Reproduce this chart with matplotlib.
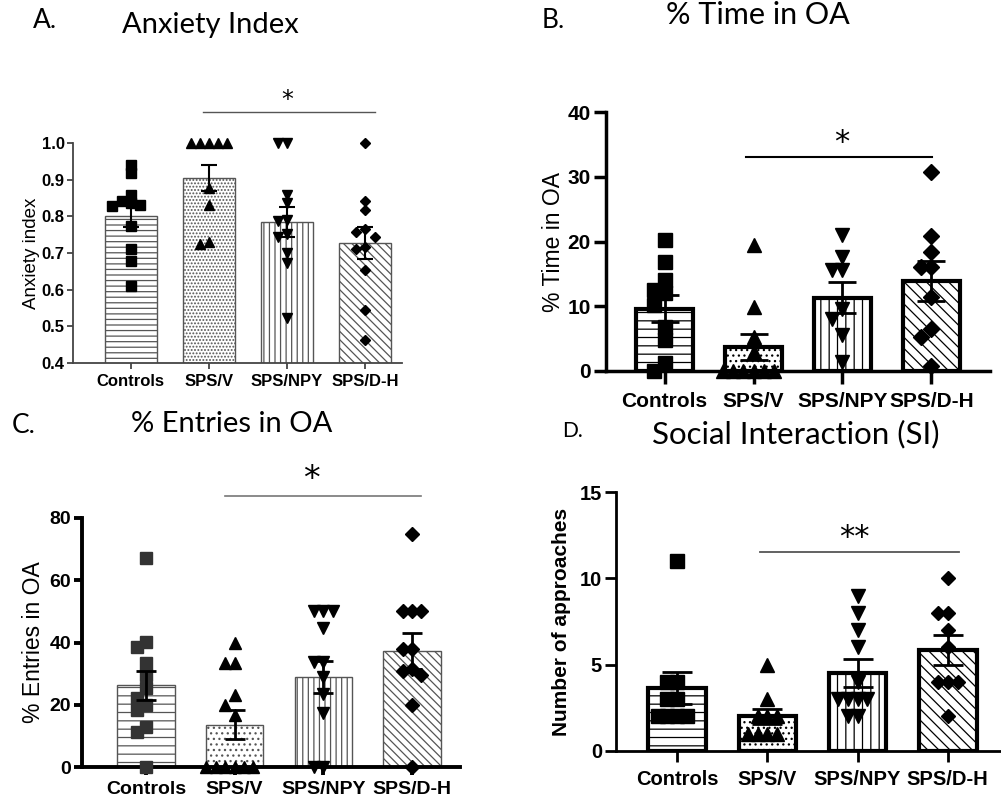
import matplotlib
matplotlib.use('Agg')
import matplotlib.pyplot as plt
import numpy as np

groups = ['Controls', 'SPS/V', 'SPS/NPY', 'SPS/D-H']

# A. Anxiety index
anx_means = [0.80, 0.905, 0.785, 0.728]
anx_sem = [0.03, 0.035, 0.04, 0.043]
anx_ctrl = [0.94, 0.918, 0.859, 0.843, 0.836, 0.832, 0.827, 0.773, 0.711, 0.679, 0.611]
anx_spsv = [1.0, 1.0, 1.0, 1.0, 1.0, 0.877, 0.832, 0.729, 0.725]
anx_npy = [1.0, 1.0, 0.859, 0.836, 0.79, 0.786, 0.752, 0.745, 0.70, 0.673, 0.523]
anx_dh = [1.0, 0.843, 0.818, 0.765, 0.757, 0.745, 0.716, 0.711, 0.653, 0.544, 0.464]

# B. % time in open arms
time_means = [9.6, 3.7, 11.3, 13.9]
time_sem = [2.1, 2.05, 2.4, 3.05]
time_ctrl = [20.2, 16.9, 14.0, 12.5, 12.0, 10.2, 6.8, 4.8, 1.2, 0.0]
time_spsv = [19.5, 9.9, 5.3, 3.0, 0, 0, 0, 0, 0, 0]
time_npy = [21.0, 17.6, 15.6, 15.6, 9.6, 8.1, 5.5, 1.4]
time_dh = [30.7, 20.8, 18.4, 16.1, 16.1, 11.5, 6.5, 5.3, 0.8]

# C. % entries in open arms
ent_means = [26.2, 13.6, 29.0, 37.3]
ent_sem = [4.8, 4.6, 5.2, 5.8]
ent_ctrl = [67.0, 40.3, 38.7, 33.3, 29.6, 25.3, 22.1, 19.9, 18.3, 13.0, 11.3, 0.0]
ent_spsv = [40.0, 33.3, 33.3, 23.1, 20.0, 16.7, 0, 0, 0, 0, 0, 0]
ent_npy = [50.0, 50.0, 50.0, 44.6, 33.8, 33.8, 29.0, 23.6, 17.2, 0, 0]
ent_dh = [75.0, 50.0, 50.0, 50.0, 37.8, 37.8, 31.5, 31.0, 29.5, 19.9, 0]

# D. Social interaction
si_means = [3.65, 2.0, 4.5, 5.85]
si_sem = [0.95, 0.45, 0.8, 0.85]
si_ctrl = [11, 4, 4, 3, 3, 2, 2, 2, 2]
si_spsv = [5, 3, 2, 2, 2, 1, 1, 1, 1]
si_npy = [9, 8, 7, 6, 4, 3, 3, 3, 3, 2, 2]
si_dh = [10, 8, 8, 7, 6, 4, 4, 4, 2]

markers = ['s', '^', 'v', 'D']

FIG_W, FIG_H = 1001, 798
fig = plt.figure(figsize=(FIG_W / 100, FIG_H / 100), dpi=100)
NUM_FONT = 'Liberation Sans'
TITLE_FONT = 'Lato'


def swarm(ax, xc, vals, ms_px, step_px):
    # simple beeswarm so overlapping points spread sideways
    pos = ax.get_position()
    w_px = pos.width * FIG_W
    h_px = pos.height * FIG_H
    x0, x1 = ax.get_xlim()
    y0, y1 = ax.get_ylim()
    xu = (x1 - x0) / w_px
    yp = h_px / (y1 - y0)
    order = sorted(range(len(vals)), key=lambda i: -vals[i])
    placed = []
    xs = [0.0] * len(vals)
    for i in order:
        v = vals[i]
        for k in [0, -1, 1, -2, 2, -3, 3, -4, 4, -5, 5]:
            dx = k * step_px
            ok = True
            for pdx, pv in placed:
                if abs(dx - pdx) < step_px * 0.9 and abs((v - pv) * yp) < ms_px * 0.8:
                    ok = False
                    break
            if ok:
                break
        placed.append((dx, v))
        xs[i] = xc + dx * xu
    return xs


def panel(rect, xlim, ylim, yticks, means, sems, points, st):
    ax = fig.add_axes(rect)
    ax.set_xlim(*xlim)
    ax.set_ylim(*ylim)
    x = np.arange(len(groups))
    for i in range(len(groups)):
        ax.bar(x[i], means[i], width=st['bw'], color='white', edgecolor=st['ec'],
               linewidth=st['blw'], hatch=st['hatch'][i], zorder=2)
    ms_px = st['ms'] * 100 / 72
    for i, vals in enumerate(points):
        xs = swarm(ax, x[i], vals, ms_px, ms_px * st['step'])
        ms = st['ms'] * (0.75 if markers[i] == 'D' else 1.0)
        ax.plot(xs, vals, linestyle='none', marker=markers[i], ms=ms,
                color=st['mc'][i], zorder=3, clip_on=False)
    ax.errorbar(x, means, yerr=sems, fmt='none', ecolor='black', elinewidth=st['elw'],
                capsize=st['cap'], capthick=st['elw'], zorder=4)
    for s in ['top', 'right']:
        ax.spines[s].set_visible(False)
    for s in ['left', 'bottom']:
        ax.spines[s].set_linewidth(st['slw'])
        ax.spines[s].set_color(st['sc'])
    ax.set_xticks(x)
    ax.set_xticklabels(groups, fontsize=st['tfs'], fontweight='bold', family=NUM_FONT)
    ax.set_yticks(yticks)
    ax.set_yticklabels([st['fmt'] % t for t in yticks], fontsize=st['tfs'],
                       fontweight='bold', family=NUM_FONT)
    ax.tick_params(axis='both', direction='out', length=st['tl'], width=st['slw'],
                   color=st['sc'], pad=2)
    ax.tick_params(axis='x', pad=st['xpad'])
    ax.set_ylabel(st['ylabel'], fontsize=st['lfs'], fontweight=st['lfw'], family=NUM_FONT,
                  labelpad=st['lpad'])
    # significance bar
    sy, sx0, sx1, stx, txt = st['sig']
    ax.plot([sx0, sx1], [sy, sy], color=st['sigc'], lw=st['siglw'], clip_on=False, zorder=5)
    ax.text(stx, sy, txt, ha='center', va='bottom', fontsize=st['sfs'], family='DejaVu Sans',
            clip_on=False)
    return ax


plt.rcParams['hatch.linewidth'] = 0.9

# Panel A
panel([73 / FIG_W, 1 - 363 / FIG_H, 329 / FIG_W, 220 / FIG_H], (-0.74, 3.47), (0.4, 1.0),
      [0.4, 0.5, 0.6, 0.7, 0.8, 0.9, 1.0], anx_means, anx_sem,
      [anx_ctrl, anx_spsv, anx_npy, anx_dh],
      dict(bw=0.67, ec='#555555', blw=1.0, hatch=['---', '.....', '|||', '\\\\\\\\'],
           ms=7.0, step=0.95, mc=['black'] * 4, elw=1.5, cap=5.5, slw=1.3, sc='#444444',
           tfs=12, fmt='%.1f', tl=4, xpad=4, ylabel='Anxiety index', lfs=13.5,
           lfw='normal', lpad=1, sig=(1.084, 0.92, 3.12, 2.0, '*'), sigc='#555555',
           siglw=1.0, sfs=17))

# Panel B
panel([606 / FIG_W, 1 - 371 / FIG_H, 384 / FIG_W, 259 / FIG_H], (-0.66, 3.66), (0, 40),
      [0, 10, 20, 30, 40], time_means, time_sem,
      [time_ctrl, time_spsv, time_npy, time_dh],
      dict(bw=0.64, ec='black', blw=3.0, hatch=['--', '...', '||', '\\\\\\'],
           ms=10.5, step=0.7, mc=['black'] * 4, elw=2.0, cap=10, slw=2.5, sc='black',
           tfs=15, fmt='%d', tl=9, xpad=6, ylabel='% Time in OA', lfs=16.5, lfw='normal',
           lpad=2, sig=(33.0, 0.92, 3.01, 1.99, '*'), sigc='black', siglw=1.5, sfs=22))

# Panel C
panel([82 / FIG_W, 1 - 767 / FIG_H, 378 / FIG_W, 249 / FIG_H], (-0.72, 3.54), (0, 80),
      [0, 20, 40, 60, 80], ent_means, ent_sem,
      [ent_ctrl, ent_spsv, ent_npy, ent_dh],
      dict(bw=0.65, ec='#555555', blw=1.0, hatch=['--', '...', '|||', '\\\\\\\\'],
           ms=9.0, step=0.75, mc=['#333333', 'black', 'black', 'black'], elw=2.0, cap=7,
           slw=2.8, sc='black', tfs=14, fmt='%d', tl=6, xpad=4, ylabel='% Entries in OA',
           lfs=16.5, lfw='normal', lpad=3, sig=(87.2, 0.89, 3.1, 1.87, '*'),
           sigc='#777777', siglw=1.2, sfs=24))

# Panel D
panel([616 / FIG_W, 1 - 751 / FIG_H, 384 / FIG_W, 259 / FIG_H], (-0.68, 3.58), (0, 15),
      [0, 5, 10, 15], si_means, si_sem,
      [si_ctrl, si_spsv, si_npy, si_dh],
      dict(bw=0.64, ec='black', blw=3.0, hatch=['--', '...', '||', '\\\\\\'],
           ms=9.5, step=0.75, mc=['black'] * 4, elw=2.0, cap=11, slw=2.0, sc='black',
           tfs=14.5, fmt='%d', tl=8, xpad=6, ylabel='Number of approaches', lfs=15,
           lfw='bold', lpad=6, sig=(11.5, 0.92, 3.13, 1.96, '**'), sigc='#555555',
           siglw=1.3, sfs=22))

# panel letters and titles
fig.text(33 / FIG_W, 1 - 28 / FIG_H, 'A.', fontsize=19, family=TITLE_FONT)
fig.text(210 / FIG_W, 1 - 33 / FIG_H, 'Anxiety Index', fontsize=21, family=TITLE_FONT, ha='center')
fig.text(542 / FIG_W, 1 - 28 / FIG_H, 'B.', fontsize=19, family=TITLE_FONT)
fig.text(758 / FIG_W, 1 - 24 / FIG_H, '% Time in OA', fontsize=22, family=TITLE_FONT, ha='center')
fig.text(12 / FIG_W, 1 - 433 / FIG_H, 'C.', fontsize=19, family=TITLE_FONT)
fig.text(232 / FIG_W, 1 - 432 / FIG_H, '% Entries in OA', fontsize=21, family=TITLE_FONT, ha='center')
fig.text(562 / FIG_W, 1 - 437 / FIG_H, 'D.', fontsize=15, family=TITLE_FONT)
fig.text(796 / FIG_W, 1 - 443 / FIG_H, 'Social Interaction (SI)', fontsize=22.5, family=TITLE_FONT, ha='center')

fig.savefig('out.png', dpi=100)
